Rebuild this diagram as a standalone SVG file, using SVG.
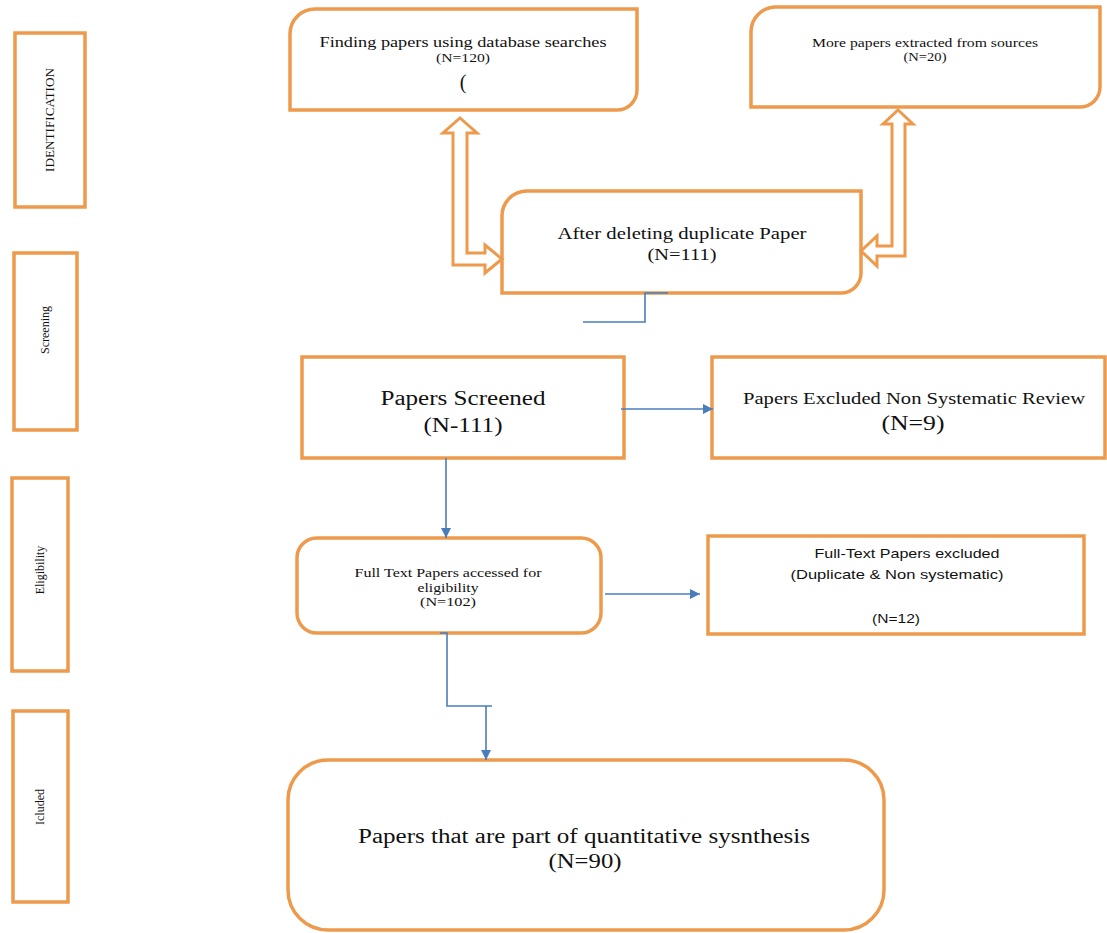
<svg xmlns="http://www.w3.org/2000/svg" width="1107" height="933" viewBox="0 0 1107 933">
<defs>
<style>
.box{fill:#fff;stroke:#EE9A4D;stroke-width:3.5}
.lbl{fill:#fff;stroke:#EE9A4D;stroke-width:3.5}
.dbl{fill:#fff;stroke:#EE9A4D;stroke-width:3;stroke-linejoin:miter}
.con{fill:none;stroke:#4A7EBB;stroke-width:1.6}
.t{font-family:"Liberation Serif","Times New Roman",serif;fill:#111;text-anchor:middle}
.s{font-family:"Liberation Sans",Arial,sans-serif;fill:#111;text-anchor:middle}
</style>
<marker id="ah" viewBox="0 0 10 10" refX="10" refY="5" markerWidth="10" markerHeight="10" markerUnits="userSpaceOnUse" orient="auto">
<path d="M0,0 L10,5 L0,10 Z" fill="#4A7EBB"/>
</marker>
</defs>
<rect width="1107" height="933" fill="#fff"/>

<g id="stage-identification">
<rect class="lbl" x="15" y="33" width="70" height="174"/>
<text class="t" font-size="12" transform="translate(54,120) rotate(-90)" textLength="104" lengthAdjust="spacingAndGlyphs">IDENTIFICATION</text>
</g>
<g id="stage-screening">
<rect class="lbl" x="14" y="253" width="63" height="177"/>
<text class="t" font-size="12" transform="translate(49,330) rotate(-90)">Screening</text>
</g>
<g id="stage-eligibility">
<rect class="lbl" x="12" y="478" width="56" height="193"/>
<text class="t" font-size="12" transform="translate(44,570) rotate(-90)">Eligibility</text>
</g>
<g id="stage-included">
<rect class="lbl" x="13" y="711" width="55" height="191"/>
<text class="t" font-size="12" transform="translate(44,807) rotate(-90)">Icluded</text>
</g>

<g id="node-database">
<path class="box" d="M290,110 L290,34 A25,25 0 0 1 315,9 L637,9 L637,90 A20,20 0 0 1 617,110 Z"/>
<text class="t" font-size="15" x="463" y="47" textLength="287" lengthAdjust="spacingAndGlyphs">Finding papers using database searches</text>
<text class="t" font-size="12" x="463" y="62" textLength="54" lengthAdjust="spacingAndGlyphs">(N=120)</text>
<text class="t" font-size="20" x="463" y="89">(</text>
</g>

<g id="node-sources">
<path class="box" d="M751,107 L751,32 A25,25 0 0 1 776,7 L1100,7 L1100,87 A20,20 0 0 1 1080,107 Z"/>
<text class="t" font-size="13" x="925" y="47" textLength="226" lengthAdjust="spacingAndGlyphs">More papers extracted from sources</text>
<text class="t" font-size="12" x="925" y="61" textLength="43" lengthAdjust="spacingAndGlyphs">(N=20)</text>
</g>

<g id="node-dedup">
<path class="box" d="M502,293 L502,216 A25,25 0 0 1 527,191 L861,191 L861,273 A20,20 0 0 1 841,293 Z"/>
<text class="t" font-size="16" x="682" y="239" textLength="249" lengthAdjust="spacingAndGlyphs">After deleting duplicate Paper</text>
<text class="t" font-size="16" x="682" y="260" textLength="69" lengthAdjust="spacingAndGlyphs">(N=111)</text>
</g>

<g id="node-screened">
<rect class="box" x="302" y="357" width="322" height="101"/>
<text class="t" font-size="20" x="463" y="405" textLength="165" lengthAdjust="spacingAndGlyphs">Papers Screened</text>
<text class="t" font-size="20" x="463" y="432" textLength="79" lengthAdjust="spacingAndGlyphs">(N-111)</text>
</g>

<g id="node-excluded-review">
<rect class="box" x="712" y="357" width="393" height="101"/>
<text class="t" font-size="16" x="914" y="404" textLength="342" lengthAdjust="spacingAndGlyphs">Papers Excluded Non Systematic Review</text>
<text class="t" font-size="20" x="913" y="430" textLength="63" lengthAdjust="spacingAndGlyphs">(N=9)</text>
</g>

<g id="node-fulltext">
<rect class="box" x="297" y="538" width="304" height="95" rx="20" ry="20"/>
<text class="t" font-size="12.5" x="448" y="577" textLength="187" lengthAdjust="spacingAndGlyphs">Full Text Papers accessed for</text>
<text class="t" font-size="12.5" x="448" y="592" textLength="61" lengthAdjust="spacingAndGlyphs">eligibility</text>
<text class="t" font-size="12.5" x="448" y="606" textLength="56" lengthAdjust="spacingAndGlyphs">(N=102)</text>
</g>

<g id="node-fulltext-excluded">
<rect class="box" x="708" y="536" width="376" height="98"/>
<text class="s" font-size="13" x="907" y="558" textLength="185" lengthAdjust="spacingAndGlyphs">Full-Text Papers excluded</text>
<text class="s" font-size="13" x="897" y="579" textLength="213" lengthAdjust="spacingAndGlyphs">(Duplicate &amp; Non systematic)</text>
<text class="s" font-size="13" x="896" y="623" textLength="48" lengthAdjust="spacingAndGlyphs">(N=12)</text>
</g>

<g id="node-included">
<rect class="box" x="288" y="760" width="596" height="170" rx="40" ry="40"/>
<text class="t" font-size="20" x="584" y="843" textLength="452" lengthAdjust="spacingAndGlyphs">Papers that are part of quantitative sysnthesis</text>
<text class="t" font-size="20" x="585" y="868" textLength="73" lengthAdjust="spacingAndGlyphs">(N=90)</text>
</g>

<g id="connectors">
<path class="dbl" d="M460,118 L477,133 L467,133 L467,253 L485,253 L485,245 L502,259 L485,273 L485,265 L453,265 L453,133 L443,133 Z"/>
<path class="dbl" d="M898,110 L913,124 L905,124 L905,256 L877,256 L877,266 L861,251 L877,236 L877,246 L892,246 L892,124 L883,124 Z"/>
<path class="con" d="M668,293 L645,293 L645,322 L583,322"/>
<path class="con" d="M621,409 L713,409" marker-end="url(#ah)"/>
<path class="con" d="M446,458 L446,538" marker-end="url(#ah)"/>
<path class="con" d="M605,594 L700,594" marker-end="url(#ah)"/>
<path class="con" d="M440,633 L447,633 L447,706 L492,706"/>
<path class="con" d="M486,706 L486,760" marker-end="url(#ah)"/>
</g>
</svg>
